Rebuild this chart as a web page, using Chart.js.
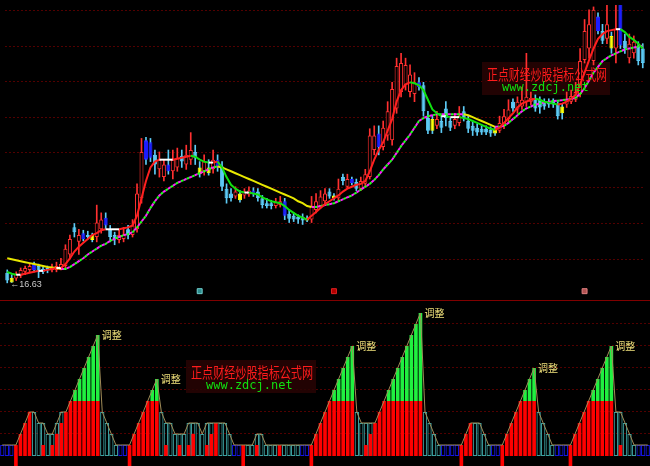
<!DOCTYPE html>
<html>
<head>
<meta charset="utf-8">
<script src="https://cdn.jsdelivr.net/npm/chart.js@4.4.1/dist/chart.umd.min.js"></script>
<style>
    html, body { margin: 0; padding: 0; background: #000; }
    #wrap { position: relative; width: 650px; height: 466px; overflow: hidden; background: #000; }
    #priceBox { position: absolute; left: 0; top: 0; width: 650px; height: 301px; }
    #oscBox { position: absolute; left: 0; top: 301px; width: 650px; height: 165px; }
    #divider { position: absolute; left: 0; top: 300px; width: 650px; height: 1px; background: #800000; }
</style>
</head>
<body>
<div id="wrap">
    <div id="priceBox"><canvas id="priceChart" width="650" height="301"></canvas></div>
    <div id="divider"></div>
    <div id="oscBox"><canvas id="oscChart" width="650" height="165"></canvas></div>
</div>
<script>
// daily candles
const opens = [17.15,16.9,16.85,17.0,17.2,17.3,17.6,17.5,17.35,17.4, 17.3,17.3,17.4,17.5,18.1,19.5,18.75,19.2,19.1,19.1,
    19.0,19.4,20.0,19.4,19.1,18.85,18.9,19.4,19.1,19.4, 21.0,24.0,23.9,23.25,22.5,22.1,22.75,22.4,22.6,23.2,
    22.75,23.0,23.4,22.6,22.4,22.6,22.5,23.0,22.65,21.5, 21.25,21.1,21.25,21.15,21.2,21.4,21.35,21.0,20.75,20.75,
    20.6,20.65,20.85,20.2,20.1,20.05,20.05,20.0,19.9,20.4, 20.6,20.85,21.35,21.15,21.0,22.1,21.6,22.0,21.85,21.5,
    21.75,22.1,23.5,24.35,23.65,24.25,24.0,25.65,26.5,26.85, 26.5,26.4,27.0,26.85,25.15,25.1,24.75,25.0,25.65,25.0,
    24.75,24.9,25.5,25.0,24.75,24.65,24.6,24.6,24.55,24.6, 24.5,24.75,25.1,26.0,25.6,25.75,26.0,26.0,26.15,26.1,
    26.0,26.0,26.0,25.85,25.75,25.85,26.0,26.1,26.4,28.15, 28.75,28.1,30.4,29.65,29.25,29.4,28.75,31.2,29.15,28.25,
    28.5,28.85,28.75];
const highs = [17.3,17.05,17.2,17.4,17.5,17.6,17.7,17.6,17.45,17.5, 17.6,17.7,17.9,18.6,19.1,19.7,19.4,19.35,19.3,19.2,
    20.65,20.25,20.25,19.6,19.25,19.4,19.5,19.6,19.9,21.75, 24.1,24.15,24.1,23.5,23.4,23.0,23.5,23.5,23.6,23.5,
    23.75,24.4,23.75,22.9,23.25,23.0,23.5,23.25,22.9,21.75, 21.5,21.6,21.4,21.5,21.6,21.55,21.5,21.15,21.0,20.9,
    21.0,21.1,21.0,20.4,20.25,20.15,20.2,20.1,21.1,21.25, 21.4,21.5,21.5,21.25,22.0,22.25,22.25,22.1,22.0,22.1,
    22.5,24.6,24.75,24.75,25.0,26.0,27.0,28.25,28.5,28.25, 27.9,27.5,27.25,27.0,25.5,25.25,25.5,25.25,26.0,25.15,
    25.4,25.75,25.75,25.25,25.0,24.85,24.75,24.75,24.7,24.7, 25.25,25.6,26.1,26.15,26.25,26.75,28.5,26.5,26.35,26.25,
    26.15,26.15,26.15,26.0,25.9,26.5,26.6,27.0,28.75,30.25, 30.75,30.9,30.6,30.0,31.0,29.6,31.0,31.2,29.5,29.5,
    29.4,29.1,29.0];
const lows = [16.63,16.65,16.75,16.9,17.05,17.2,17.2,16.9,17.1,17.15, 17.2,17.2,17.3,17.4,17.9,19.0,18.1,18.8,18.9,18.75,
    18.75,19.2,19.4,18.75,18.6,18.7,18.75,18.9,19.0,19.25, 20.75,22.75,22.9,22.25,22.1,21.9,22.25,22.0,22.4,22.6,
    22.5,22.75,22.75,22.1,22.2,22.2,22.3,22.4,21.4,20.75, 20.85,21.0,20.8,21.0,21.1,21.1,20.85,20.5,20.5,20.45,
    20.5,20.55,19.9,19.75,19.8,19.7,19.65,19.8,19.75,20.25, 20.5,20.7,21.0,20.9,20.9,21.7,21.5,21.7,21.4,21.4,
    21.6,22.0,23.25,23.25,23.5,24.0,23.75,25.4,26.25,26.6, 26.25,26.0,26.6,25.25,24.35,24.35,24.6,24.4,24.75,24.5,
    24.6,24.75,25.0,24.4,24.25,24.25,24.3,24.3,24.2,24.25, 24.4,24.6,24.9,25.5,25.4,25.6,25.75,25.85,25.5,25.4,
    25.6,25.7,25.7,25.1,25.1,25.7,25.9,26.0,26.25,28.0, 28.25,27.9,29.5,29.0,29.0,28.5,28.0,28.75,28.5,28.0,
    28.25,27.9,27.75];
const closes = [16.75,16.65,17.1,17.3,17.4,17.5,17.3,17.2,17.2,17.3, 17.4,17.5,17.6,18.4,18.9,19.25,19.1,18.9,19.0,18.85,
    19.75,19.9,19.6,19.0,18.9,19.1,19.1,19.1,19.6,21.25, 23.4,23.0,23.1,22.75,23.0,22.75,22.4,23.0,23.1,22.9,
    23.25,23.5,23.1,22.25,22.9,22.3,23.0,22.6,21.6,21.0, 21.0,21.35,20.9,21.35,21.4,21.2,21.0,20.65,20.6,20.6,
    20.8,20.85,20.1,19.95,19.9,19.9,19.85,19.85,20.6,20.85, 21.1,21.25,21.1,21.0,21.5,21.9,22.0,21.8,21.5,21.9,
    22.25,24.25,24.25,23.65,24.65,25.5,26.65,27.85,28.0,27.9, 27.4,27.0,26.75,25.5,24.5,24.5,25.1,24.65,25.15,24.65,
    25.1,25.25,25.15,24.6,24.5,24.4,24.4,24.4,24.35,24.35, 24.9,25.25,25.6,25.65,26.0,26.1,26.25,26.2,25.65,25.7,
    25.75,25.85,25.85,25.25,25.4,26.15,26.3,26.5,28.1,29.65, 30.0,30.75,29.65,29.15,30.0,28.75,29.75,28.9,28.75,29.0,
    29.1,28.1,28.0];
const blueBars = [6,17,22,31,32,36,47,55,62,77,83,92,132,137];
const yellowBars = [1,19,43,45,52,67,73,95,109,124,135];
const noteBars = [44, 74, 130];

// trend lines
const fastLine = [17.2,17.1,17.05,17.05,17.1,17.15,17.2,17.25,17.25,17.3, 17.35,17.4,17.4,17.6,17.9,18.25,18.5,18.7,18.9,19.1,
    19.2,19.35,19.4,19.4,19.4,19.4,19.45,19.5,19.6,20.1, 21.0,21.9,22.6,22.9,23.0,23.0,23.0,23.0,23.05,23.1,
    23.15,23.2,23.15,23.0,22.9,22.85,22.85,22.9,22.6,22.1, 21.7,21.5,21.35,21.3,21.3,21.25,21.2,21.05,20.95,20.85,
    20.8,20.75,20.6,20.4,20.25,20.1,20.0,19.9,20.1,20.3, 20.5,20.7,20.85,21.0,21.15,21.35,21.5,21.6,21.7,21.75,
    21.9,22.4,23.0,23.5,23.9,24.5,25.1,26.0,26.6,26.9, 27.0,26.95,26.85,26.6,26.1,25.6,25.4,25.25,25.25,25.2,
    25.2,25.2,25.15,25.1,25.0,24.9,24.8,24.7,24.6,24.55, 24.65,24.9,25.15,25.4,25.7,25.9,26.0,26.1,26.15,26.1,
    26.0,25.95,25.9,25.85,25.9,26.0,26.15,26.35,26.9,27.5, 28.15,28.75,29.25,29.5,29.65,29.7,29.75,29.75,29.6,29.35,
    29.2,29.0,28.75];
const slowLine = [17.9,17.85,17.8,17.75,17.7,17.65,17.6,17.55,17.5,17.45, 17.43,17.4,17.35,17.35,17.45,17.6,17.75,17.9,18.1,18.25,
    18.4,18.55,18.65,18.8,18.9,19.0,19.1,19.15,19.25,19.5, 19.8,20.1,20.5,20.85,21.15,21.35,21.5,21.65,21.8,21.9,
    22.0,22.1,22.2,22.3,22.4,22.5,22.6,22.65,22.6,22.5, 22.4,22.3,22.2,22.1,22.0,21.9,21.8,21.7,21.6,21.5,
    21.4,21.3,21.2,21.1,21.0,20.85,20.75,20.6,20.55,20.55, 20.6,20.65,20.7,20.75,20.85,20.95,21.05,21.15,21.3,21.45,
    21.6,21.75,21.95,22.2,22.5,22.75,23.0,23.35,23.7,24.0, 24.3,24.65,25.0,25.15,25.25,25.3,25.35,25.35,25.35,25.35,
    25.35,25.35,25.35,25.3,25.2,25.1,25.0,24.9,24.8,24.7, 24.7,24.75,24.9,25.1,25.3,25.5,25.65,25.75,25.85,25.9,
    25.95,26.0,26.03,26.05,26.08,26.1,26.15,26.2,26.4,26.7, 27.1,27.5,27.8,28.1,28.25,28.4,28.5,28.6,28.7,28.75,
    28.8,28.85,28.9];
const gridPrices = [17.85, 19.7, 21.55, 23.35, 25.2, 27.05, 28.85, 30.7];

// lower indicator
const oscTop = [1,1,1,1,2,3,4,4,3,3, 2,2,3,4,4,5,6,7,8,9, 10,11,4,3,2,1,1,1,1,2, 3,4,5,6,7,4,3,3,2,2,
    2,3,3,3,2,3,3,3,3,3, 2,1,1,1,1,1,2,2,1,1, 1,1,1,1,1,1,1,1,1,2, 3,4,5,6,7,8,9,10,4,3,
    3,3,3,4,5,6,7,8,9,10, 11,12,13,4,3,2,1,1,1,1, 1,1,2,3,3,3,2,1,1,1, 1,2,3,4,5,6,7,8,4,3,
    2,1,1,1,1,1,2,3,4,5, 6,7,8,9,10,4,4,3,2,1, 1,1,1];
const oscRed = [0,0,0,1,2,3,4,0,0,1, 0,1,2,3,4,5,6,7,8,9, 10,11,0,0,0,0,0,0,1,2, 3,4,5,6,7,0,1,0,0,1,
    0,1,2,0,0,1,2,3,0,0, 0,0,0,1,0,0,1,0,0,0, 0,1,0,0,0,0,0,0,1,2, 3,4,5,6,7,8,9,10,0,0,
    1,2,3,4,5,6,7,8,9,10, 11,12,13,0,0,0,0,0,0,0, 0,1,2,3,0,0,0,0,0,0, 1,2,3,4,5,6,7,8,0,0,
    0,0,0,0,0,1,2,3,4,5, 6,7,8,9,10,0,1,0,0,0, 0,0,0];
const idleBars = [0,1,2,26,27,51,52,66,67,97,98,99,100,108,109,122,123,124,140,141,142];
const startBars = [3,28,53,68,101,110,125];
const adjustBars = [21,34,77,92,117,134];
const oscGrid = [2, 4, 6, 8, 10, 12];

const days = closes.map((_, i) => i + 1);
const RED = '#ff3030', CYAN = '#5ccaf5', BLUE = '#1c1cff', YELLOW = '#ffff00';

function candleColor(i) {
    if (blueBars.includes(i)) return BLUE;
    if (yellowBars.includes(i)) return YELLOW;
    return closes[i] >= opens[i] ? RED : CYAN;
}

function stamp(ctx, left, top, width) {
    ctx.save();
    ctx.textBaseline = 'middle';
    ctx.font = '15px "Noto Sans CJK SC"';
    ctx.fillStyle = '#ff1c1c';
    ctx.fillText('正点财经炒股指标公式网', left + 5, top + 12, width - 8);
    ctx.font = '12px "DejaVu Sans Mono"';
    ctx.fillStyle = '#10e010';
    ctx.fillText('www.zdcj.net', left + 20, top + 26);
    ctx.restore();
}

function stampBox(ctx, left, top, width) {
    ctx.save();
    ctx.fillStyle = 'rgba(40,4,4,0.85)';
    ctx.fillRect(left, top, width, 33);
    ctx.restore();
}

const priceDecor = {
    id: 'priceDecor',
    beforeDatasetsDraw(chart) {
        stampBox(chart.ctx, 482, 62, 128);
    },
    afterDatasetsDraw(chart) {
        const { ctx, scales: { x, y } } = chart;
        stamp(ctx, 482, 62, 128);
        const low = Math.min(...lows);
        const i = lows.indexOf(low);
        ctx.save();
        ctx.font = '9px "Liberation Sans"';
        ctx.fillStyle = '#c8c8c8';
        ctx.textBaseline = 'middle';
        ctx.fillText('←' + low.toFixed(2), x.getPixelForValue(i) + 3, y.getPixelForValue(low) + 2);
        ctx.restore();
    }
};

const oscDecor = {
    id: 'oscDecor',
    beforeDatasetsDraw(chart) {
        stampBox(chart.ctx, 186, 59, 130);
    },
    afterDatasetsDraw(chart) {
        const { ctx, scales: { x, y } } = chart;
        stamp(ctx, 186, 59, 130);
        ctx.save();
        ctx.font = '10px "Noto Sans CJK SC"';
        ctx.fillStyle = '#efe07a';
        ctx.textBaseline = 'middle';
        adjustBars.forEach(i => ctx.fillText('调整', x.getPixelForValue(i) + 4, y.getPixelForValue(oscTop[i])));
        ctx.restore();
    }
};

const hiddenX = { type: 'category', display: false, offset: true };

function gridAxis(min, max, values) {
    return {
        min, max,
        afterBuildTicks: s => { s.ticks = values.map(v => ({ value: v })); },
        ticks: { display: false },
        grid: { color: '#520000', drawTicks: false },
        border: { display: false, dash: [2, 2] }
    };
}

const baseOpts = {
    responsive: false,
    animation: false,
    layout: { padding: 0 },
    plugins: { legend: { display: false }, tooltip: { enabled: false } }
};

const falling = c => c.p1.parsed.y < c.p0.parsed.y;

new Chart(document.getElementById('priceChart'), {
    type: 'bar',
    data: {
        labels: days,
        datasets: [
            {
                type: 'line', data: fastLine, order: 1, borderWidth: 2, pointRadius: 0,
                segment: {
                    borderColor: c => {
                        const d = c.p1.parsed.y - c.p0.parsed.y;
                        return d > 0.04 ? '#ff2020' : d < -0.04 ? '#10e010' : '#ffffff';
                    }
                }
            },
            {
                type: 'line', data: slowLine, order: 2, borderWidth: 2, pointRadius: 0,
                segment: { borderColor: c => falling(c) ? '#e8e800' : 'rgba(0,0,0,0)' }
            },
            {
                type: 'line', data: slowLine, order: 3, borderWidth: 2, pointRadius: 0, borderDash: [3, 3],
                segment: { borderColor: c => falling(c) ? 'rgba(0,0,0,0)' : '#ff20ff' }
            },
            {
                type: 'line', data: slowLine, order: 4, borderWidth: 2, pointRadius: 0,
                borderDash: [3, 3], borderDashOffset: 3,
                segment: { borderColor: c => falling(c) ? 'rgba(0,0,0,0)' : '#20ff20' }
            },
            {
                type: 'scatter', order: 0, pointStyle: 'rect', pointRadius: 3.5,
                data: noteBars.map(i => ({ x: i, y: 16.2 })),
                backgroundColor: ['#2c8c8c', '#b00000', '#b05050'],
                borderColor: ['#70d0d0', '#e02020', '#e08080'], borderWidth: 1
            },
            {
                data: opens.map((o, i) => [o, closes[i]]), order: 5, grouped: false,
                barPercentage: 0.9, categoryPercentage: 1, minBarLength: 1,
                borderWidth: 1, borderSkipped: false,
                borderColor: opens.map((_, i) => candleColor(i)),
                backgroundColor: opens.map((_, i) => candleColor(i) === RED ? '#000' : candleColor(i))
            },
            {
                data: lows.map((l, i) => [l, highs[i]]), order: 6, grouped: false,
                barThickness: 1, borderWidth: 0,
                backgroundColor: opens.map((o, i) => closes[i] >= o ? RED : CYAN)
            }
        ]
    },
    options: {
        ...baseOpts,
        scales: { x: hiddenX, y: gridAxis(15.95, 31, gridPrices) }
    },
    plugins: [priceDecor]
});

new Chart(document.getElementById('oscChart'), {
    type: 'bar',
    data: {
        labels: days,
        datasets: [
            {
                type: 'line', data: oscTop, order: 1, borderWidth: 1, pointRadius: 0,
                borderColor: '#a08c58'
            },
            {
                data: days.map((_, i) => startBars.includes(i) ? [-1, 0] : null),
                order: 2, grouped: false, barPercentage: 0.8, categoryPercentage: 1,
                backgroundColor: '#ff0000', borderWidth: 0
            },
            {
                data: oscRed.map(v => v > 5 ? [5, v] : null), order: 3, grouped: false,
                barPercentage: 0.8, categoryPercentage: 1, backgroundColor: '#20f040', borderWidth: 0
            },
            {
                data: oscRed.map(v => v > 0 ? [0, Math.min(v, 5)] : null), order: 4, grouped: false,
                barPercentage: 0.8, categoryPercentage: 1, backgroundColor: '#ff0000', borderWidth: 0
            },
            {
                data: oscTop.map((v, i) => oscRed[i] >= v ? null : v), order: 5, grouped: false,
                barPercentage: 0.95, categoryPercentage: 1, borderWidth: 1, borderSkipped: false,
                backgroundColor: 'rgba(0,0,0,0)',
                borderColor: oscTop.map((_, i) => idleBars.includes(i) ? '#1414e0' : '#3ca0a0')
            }
        ]
    },
    options: {
        ...baseOpts,
        scales: { x: hiddenX, y: gridAxis(-0.909, 14.09, oscGrid) }
    },
    plugins: [oscDecor]
});
</script>
</body>
</html>
